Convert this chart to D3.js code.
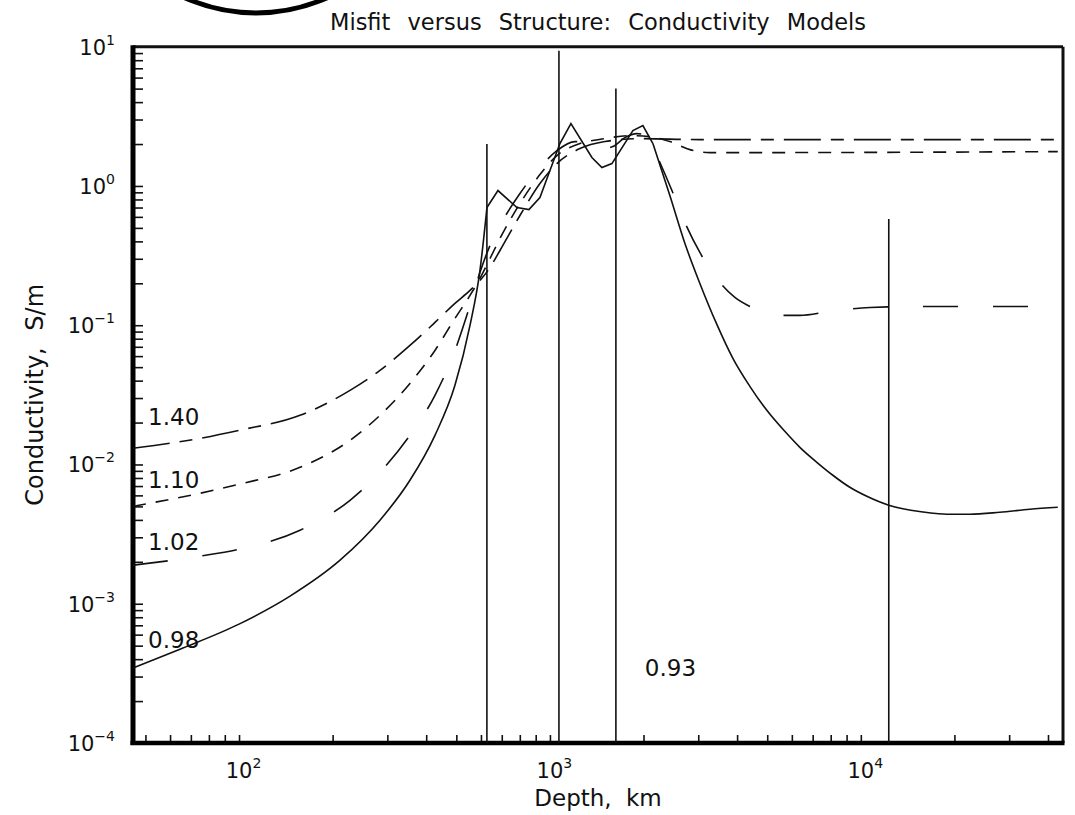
<!DOCTYPE html>
<html>
<head>
<meta charset="utf-8">
<script src="https://cdn.jsdelivr.net/npm/d3@7"></script>
<style>
body { margin: 0; background: #fff; }
text { font-family: "DejaVu Sans", sans-serif; fill: #111; }
</style>
</head>
<body>
<svg id="chart" width="1075" height="815"></svg>
<script>
// misfit 0.98 (solid)
var depth098 = [45.6, 64.6, 100, 145.9, 211.3, 284, 354.6, 426.8, 494.9, 553.2, 595.5,
    627.3, 680.5, 783.3, 855.8, 928.7, 1076.9, 1168.3, 1364.6, 1469.6, 1582.4, 1849, 1990.9, 2144.3,
    2431, 2718, 3036, 3443, 3877, 4396, 4985, 5695, 6367, 7219, 8128, 9218, 10454, 12303, 14483, 17042, 19330, 22410, 27990, 34950, 43000];
var sigma098 = [3.45e-4, 4.72e-4, 7.14e-4, 1.134e-3, 2.055e-3, 3.98e-3, 7.70e-3, 0.0162, 0.0370, 0.0997, 0.247,
    0.70, 0.927, 0.70, 0.677, 0.826, 2.015, 2.80, 1.60, 1.355, 1.448, 2.497, 2.713, 2.015,
    0.853, 0.386, 0.1995, 0.1013, 0.0578, 0.0364, 0.0245, 0.0173, 0.01328, 0.01037, 8.37e-3, 6.86e-3, 5.91e-3, 5.10e-3, 4.69e-3, 4.47e-3, 4.39e-3, 4.39e-3, 4.54e-3, 4.77e-3, 4.93e-3];
// piece of the 0.98 model drawn with straight segments (layered part)
var layered098 = [627.3, 2144.3];

// misfit 1.02 (long dash)
var depth102 = [45.6, 74.9, 100, 157.1, 227.5, 284, 354.6, 426.8, 494.9, 553.2, 595.5, 641.7, 690.7, 800.9, 928.7, 1053.2, 1203.6, 1344.9, 1480.6, 1594.3, 1742.6, 1904.5, 2066.3, 2208.6, 2468.4, 2718, 3036, 3520, 3934, 4396, 4913, 5490, 6367, 7952, 10690, 15470, 43000];
var sigma102 = [1.891e-3, 2.195e-3, 2.464e-3, 3.373e-3, 5.535e-3, 8.79e-3, 0.0162, 0.0314, 0.0659, 0.1387, 0.239, 0.374, 0.520, 0.882, 1.355, 1.795, 2.083, 2.083, 1.855, 1.917, 2.224, 2.376, 2.298, 1.652, 0.927, 0.546, 0.333, 0.2028, 0.1583, 0.1364, 0.1235, 0.1176, 0.1176, 0.1256, 0.1342, 0.1364, 0.1364];

// misfit 1.10 (short dash)
var depth110 = [45.6, 74.9, 100, 157.1, 227.5, 284, 354.6, 426.8, 494.9, 553.2, 595.5, 641.7, 690.7, 800.9, 928.7, 1053.2, 1249, 1502, 1808, 2097, 2431, 2820, 3268, 4396, 43000];
var sigma110 = [5.01e-3, 6.21e-3, 7.21e-3, 9.54e-3, 0.01491, 0.02254, 0.0382, 0.0659, 0.1119, 0.1636, 0.2166, 0.3014, 0.4195, 0.7477, 1.207, 1.652, 2.015, 2.188, 2.298, 2.261, 2.083, 1.824, 1.736, 1.736, 1.765];

// misfit 1.40 (long-short dash)
var depth140 = [45.6, 74.9, 100, 157.1, 227.5, 284, 354.6, 426.8, 494.9, 553.2, 595.5, 641.7, 690.7, 800.9, 928.7, 1053.2, 1249, 1502, 1947, 3036, 43000];
var sigma140 = [0.01307, 0.01541, 0.01759, 0.02254, 0.03406, 0.0474, 0.0716, 0.1047, 0.1434, 0.1777, 0.2096, 0.2598, 0.3440, 0.6135, 1.040, 1.448, 1.855, 2.083, 2.188, 2.152, 2.152];

// misfit 0.93: vertical bars (depth, top conductivity)
var barDepth = [627, 1069, 1630, 12300];
var barTop = [2.0, 9.35, 5.0, 0.58];

// curve labels
var labelText = ["1.40", "1.10", "1.02", "0.98", "0.93"];
var labelDepth = [51, 51, 51, 51, 2020];
var labelSigma = [0.0191, 6.75e-3, 2.42e-3, 4.8e-4, 3.03e-4];

var xMajor = [100, 1000, 10000];
var xMajorExp = ["2", "3", "4"];
var yMajor = [1e-4, 1e-3, 1e-2, 1e-1, 1, 10];
var yMajorExp = ["\u22124", "\u22123", "\u22122", "\u22121", "0", "1"];

var svg = d3.select('#chart');
var padding = {t: 46.7, r: 12, b: 72, l: 133};
var chartWidth = 1075 - padding.l - padding.r;
var chartHeight = 815 - padding.t - padding.b;

var chartG = svg.append('g')
    .attr('transform', 'translate(' + [padding.l, padding.t] + ')');

var xScale = d3.scaleLog().domain([45.6, 44700]).range([0, chartWidth]);
var yScale = d3.scaleLog().domain([1e-4, 10]).range([chartHeight, 0]);

// minor + major tick values
var xTicks = [];
for (var k = 1; k <= 4; k++) {
    for (var m = 1; m <= 9; m++) {
        var v = m * Math.pow(10, k);
        if (v >= 45.6 && v <= 44700) xTicks.push(v);
    }
}
var yTicks = [];
for (var k2 = -4; k2 <= 0; k2++) {
    for (var m2 = 1; m2 <= 9; m2++) {
        yTicks.push(m2 * Math.pow(10, k2));
    }
}
yTicks.push(10);

var xAxisG = chartG.append('g')
    .attr('class', 'x axis')
    .attr('transform', 'translate(' + [0, chartHeight] + ')')
    .call(d3.axisBottom(xScale).tickValues(xTicks).tickSize(-8).tickFormat(''));
var yAxisG = chartG.append('g')
    .attr('class', 'y axis')
    .call(d3.axisLeft(yScale).tickValues(yTicks).tickSize(-10).tickFormat(''));
chartG.selectAll('.axis .domain').remove();
chartG.selectAll('.axis line').attr('stroke', '#111').attr('stroke-width', 1.6);

// frame: thin top/right, heavy left/bottom
chartG.append('line').attr('x1', 0).attr('x2', chartWidth).attr('y1', 0).attr('y2', 0)
    .attr('stroke', '#111').attr('stroke-width', 3);
chartG.append('line').attr('x1', chartWidth).attr('x2', chartWidth).attr('y1', 0).attr('y2', chartHeight)
    .attr('stroke', '#111').attr('stroke-width', 3);
chartG.append('line').attr('x1', 0).attr('x2', 0).attr('y1', -1.5).attr('y2', chartHeight + 2)
    .attr('stroke', '#000').attr('stroke-width', 5);
chartG.append('line').attr('x1', -2.5).attr('x2', chartWidth + 1.5).attr('y1', chartHeight).attr('y2', chartHeight)
    .attr('stroke', '#000').attr('stroke-width', 4.5);

// x tick labels: "10" centred on the tick, exponent to the right
xMajor.forEach(function(v, i) {
    var t = chartG.append('text')
        .attr('y', chartHeight + 35)
        .style('font-size', '21px');
    var base = t.append('tspan').text('10');
    t.append('tspan').attr('dy', -10).style('font-size', '14px').text(xMajorExp[i]);
    var w = base.node().getComputedTextLength();
    t.attr('x', xScale(v) - w / 2);
});

// y tick labels
yMajor.forEach(function(v, i) {
    var t = chartG.append('text')
        .attr('x', -18)
        .attr('y', yScale(v) + 8)
        .attr('text-anchor', 'end')
        .style('font-size', '21px');
    t.append('tspan').text('10');
    t.append('tspan').attr('dy', -10).style('font-size', '14px').text(yMajorExp[i]);
});

// curves
var smoothLine = d3.line()
    .x(function(d) { return xScale(d[0]); })
    .y(function(d) { return yScale(d[1]); })
    .curve(d3.curveMonotoneX);
var straightLine = d3.line()
    .x(function(d) { return xScale(d[0]); })
    .y(function(d) { return yScale(d[1]); });

function pairs(depth, sigma) {
    return depth.map(function(d, i) { return [d, sigma[i]]; });
}

function drawCurve(pts, dash, gen) {
    chartG.append('path')
        .datum(pts)
        .attr('fill', 'none')
        .attr('stroke', '#111')
        .attr('stroke-width', 1.6)
        .attr('stroke-dasharray', dash)
        .attr('d', gen);
}

// 0.98: smooth tails, straight layered section
var pts098 = pairs(depth098, sigma098);
drawCurve(pts098.filter(function(p) { return p[0] <= layered098[0]; }), null, smoothLine);
drawCurve(pts098.filter(function(p) { return p[0] >= layered098[0] && p[0] <= layered098[1]; }), null, straightLine);
drawCurve(pts098.filter(function(p) { return p[0] >= layered098[1]; }), null, smoothLine);

drawCurve(pairs(depth102, sigma102), '35,35', smoothLine);
drawCurve(pairs(depth110, sigma110), '13,10', smoothLine);
drawCurve(pairs(depth140, sigma140), '37,10,13,10', smoothLine);

// vertical bars
chartG.selectAll('.bar').data(barDepth).enter()
    .append('line')
    .attr('class', 'bar')
    .attr('x1', function(d) { return xScale(d); })
    .attr('x2', function(d) { return xScale(d); })
    .attr('y1', function(d, i) { return yScale(barTop[i]); })
    .attr('y2', chartHeight)
    .attr('stroke', '#111')
    .attr('stroke-width', 1.6);

// misfit labels
chartG.selectAll('.lbl').data(labelText).enter()
    .append('text')
    .attr('class', 'lbl')
    .attr('x', function(d, i) { return xScale(labelDepth[i]); })
    .attr('y', function(d, i) { return yScale(labelSigma[i]); })
    .style('font-size', '23px')
    .text(function(d) { return d; });

// titles
svg.append('text')
    .attr('x', 598).attr('y', 30)
    .attr('text-anchor', 'middle')
    .style('font-size', '22.5px')
    .style('word-spacing', '10px')
    .text('Misfit versus Structure: Conductivity Models');

svg.append('text')
    .attr('x', 598).attr('y', 806)
    .attr('text-anchor', 'middle')
    .style('font-size', '23px')
    .style('word-spacing', '7px')
    .text('Depth, km');

svg.append('text')
    .attr('transform', 'translate(43,' + (padding.t + chartHeight / 2) + ') rotate(-90)')
    .attr('text-anchor', 'middle')
    .style('font-size', '24px')
    .style('word-spacing', '9px')
    .text('Conductivity, S/m');

// stamp arc at top-left
svg.append('circle')
    .attr('cx', 256).attr('cy', -161).attr('r', 174)
    .attr('fill', 'none')
    .attr('stroke', '#000')
    .attr('stroke-width', 5);
</script>
</body>
</html>
